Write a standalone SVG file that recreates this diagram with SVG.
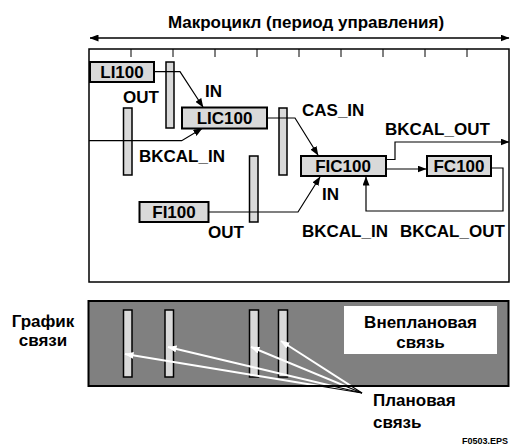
<svg xmlns="http://www.w3.org/2000/svg" width="511" height="446" viewBox="0 0 511 446">
<defs>
<marker id="ah" markerWidth="9" markerHeight="7" refX="8.5" refY="3.5" orient="auto-start-reverse" markerUnits="userSpaceOnUse"><path d="M0,0 L9,3.5 L0,7 z" fill="#000"/></marker>
<marker id="wh" markerWidth="9" markerHeight="7" refX="8.5" refY="3.5" orient="auto" markerUnits="userSpaceOnUse"><path d="M0,0 L9,3.5 L0,7 z" fill="#fff"/></marker>
<clipPath id="gclip"><rect x="89" y="302" width="419" height="83"/></clipPath>
</defs>
<style>
text{font-family:"Liberation Sans",Arial,sans-serif;font-weight:bold;font-size:17px;fill:#000}
.c{text-anchor:middle}
.blk{fill:#d9d9d9;stroke:#000;stroke-width:2}
.bar{fill:#d9d9d9;stroke:#000;stroke-width:1.5}
.conn{fill:none;stroke:#000;stroke-width:1.2}
.wl{fill:none;stroke:#fff;stroke-width:2}
.bl{fill:none;stroke:#000;stroke-width:1.2}
.tick{stroke:#000;stroke-width:1}
</style>

<!-- title and macrocycle arrow -->
<text class="c" x="306" y="28">Макроцикл (период управления)</text>
<line x1="90" y1="38" x2="509" y2="38" stroke="#000" stroke-width="1.3" marker-start="url(#ah)" marker-end="url(#ah)"/>

<!-- main frame -->
<rect x="89" y="49" width="420" height="233" fill="#fff" stroke="#000" stroke-width="1.5"/>
<g id="ticks">
<line class="tick" x1="131" y1="49" x2="131" y2="57"/>
<line class="tick" x1="173" y1="49" x2="173" y2="57"/>
<line class="tick" x1="215" y1="49" x2="215" y2="57"/>
<line class="tick" x1="257" y1="49" x2="257" y2="57"/>
<line class="tick" x1="299" y1="49" x2="299" y2="57"/>
<line class="tick" x1="341" y1="49" x2="341" y2="57"/>
<line class="tick" x1="383" y1="49" x2="383" y2="57"/>
<line class="tick" x1="425" y1="49" x2="425" y2="57"/>
<line class="tick" x1="467" y1="49" x2="467" y2="57"/>
</g>

<!-- execution bars (upper) -->
<g id="bars-top">
<rect class="bar" x="166" y="62" width="8" height="66"/>
<rect class="bar" x="123.5" y="108" width="8.5" height="67"/>
<rect class="bar" x="279" y="108" width="8" height="67"/>
<rect class="bar" x="249.5" y="156" width="8.5" height="66"/>
</g>

<!-- connectors -->
<g id="connectors">
<polyline class="conn" points="154,71.7 180,71.7 203,107" marker-end="url(#ah)"/>
<polyline class="conn" points="89,140.7 181.7,140.7 202,128.5" marker-end="url(#ah)"/>
<polyline class="conn" points="266.7,118 295,118 318,155" marker-end="url(#ah)"/>
<polyline class="conn" points="208.3,212 298,212 320,177" marker-end="url(#ah)"/>
<polyline class="conn" points="386,159.5 395,159.5 395,142 509,142" marker-end="url(#ah)"/>
<polyline class="conn" points="386,169 426,169" marker-end="url(#ah)"/>
<polyline class="conn" points="491,168 503,168 503,211 366,211 366,177" marker-end="url(#ah)"/>
</g>

<!-- nodes -->
<g id="LI100"><rect class="blk" x="90" y="62" width="64" height="20"/><text class="c" x="122" y="78">LI100</text></g>
<g id="LIC100"><rect class="blk" x="182" y="107.5" width="85" height="21"/><text class="c" x="224.5" y="124">LIC100</text></g>
<g id="FIC100"><rect class="blk" x="301" y="156" width="85" height="20"/><text class="c" x="343" y="172">FIC100</text></g>
<g id="FC100"><rect class="blk" x="427" y="156" width="64" height="20"/><text class="c" x="459" y="172">FC100</text></g>
<g id="FI100"><rect class="blk" x="139.5" y="202" width="69" height="20"/><text class="c" x="174" y="218">FI100</text></g>

<!-- labels -->
<g id="labels">
<text x="123" y="103">OUT</text>
<text x="205" y="96.5">IN</text>
<text x="139" y="161.5">BKCAL_IN</text>
<text x="302" y="116">CAS_IN</text>
<text x="385" y="135">BKCAL_OUT</text>
<text x="322" y="200">IN</text>
<text x="302" y="236.5">BKCAL_IN</text>
<text x="400" y="236.5">BKCAL_OUT</text>
<text x="208" y="238">OUT</text>
</g>

<!-- communication schedule -->
<g id="schedule">
<text class="c" x="43" y="327">График</text>
<text class="c" x="43" y="346">связи</text>
<g id="pointer-black">
<line class="bl" x1="362" y1="393" x2="125" y2="354"/>
<line class="bl" x1="362" y1="393" x2="168" y2="347"/>
<line class="bl" x1="362" y1="393" x2="251" y2="347"/>
<line class="bl" x1="362" y1="393" x2="281" y2="341"/>
</g>
<rect x="88.5" y="301" width="420" height="85" fill="#808080" stroke="#000" stroke-width="2"/>
<rect class="bar" x="123.5" y="310" width="8.5" height="67"/>
<rect class="bar" x="165" y="310" width="8.5" height="67"/>
<rect class="bar" x="249.5" y="310" width="9" height="67"/>
<rect class="bar" x="278.5" y="310" width="9" height="67"/>
<g clip-path="url(#gclip)">
<line class="wl" x1="362" y1="393" x2="125" y2="354" marker-end="url(#wh)"/>
<line class="wl" x1="362" y1="393" x2="168" y2="347" marker-end="url(#wh)"/>
<line class="wl" x1="362" y1="393" x2="251" y2="347" marker-end="url(#wh)"/>
<line class="wl" x1="362" y1="393" x2="281" y2="341" marker-end="url(#wh)"/>
</g>
<g id="unscheduled">
<rect x="344" y="306" width="153" height="48" fill="#fff"/>
<text class="c" x="420.5" y="328">Внеплановая</text>
<text class="c" x="420.5" y="348">связь</text>
</g>
<text x="373" y="406">Плановая</text>
<text x="373" y="428">связь</text>
</g>

<text x="508" y="444" text-anchor="end" style="font-size:9px">F0503.EPS</text>
</svg>
